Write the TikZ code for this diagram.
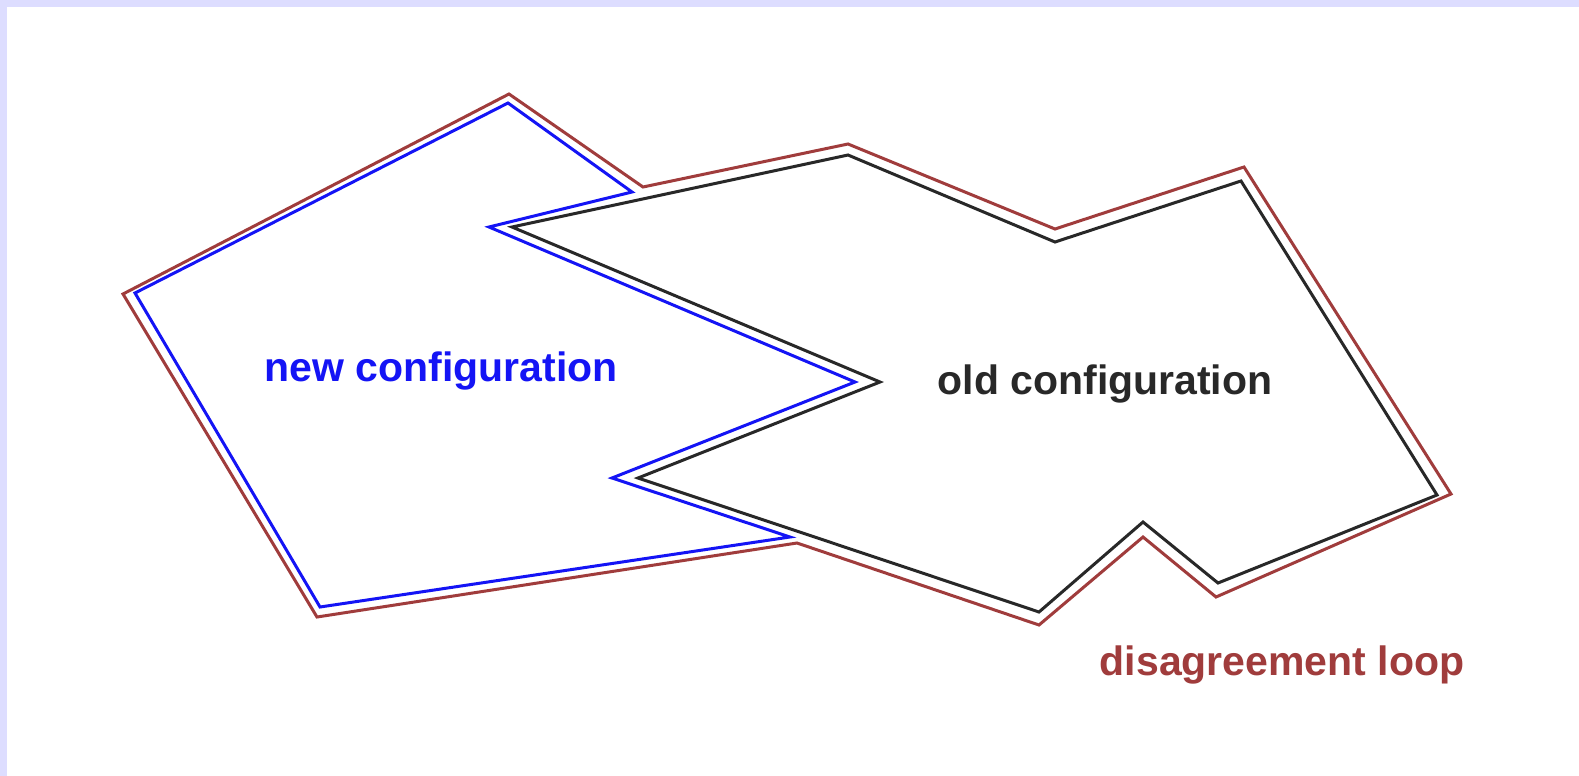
\documentclass[tikz,border=0pt]{standalone}
\usepackage{fontspec}
\setmainfont{Liberation Sans}
\definecolor{framelav}{RGB}{221,221,255}
\definecolor{newblue}{RGB}{20,20,245}
\definecolor{oldblack}{RGB}{40,40,40}
\definecolor{loopred}{RGB}{160,60,60}
\tikzset{
  outline/.style={line width=1.5pt, line join=miter},
  label/.style={font=\bfseries\fontsize{20.5}{24}\selectfont, inner sep=0pt, anchor=base}
}
\begin{document}
\begin{tikzpicture}[x=0.5pt,y=-0.5pt]
  % page and frame bands
  \useasboundingbox (0,0) rectangle (1579,776);
  \fill[white] (0,0) rectangle (1579,776);
  \fill[framelav] (0,0) rectangle (1579,7);
  \fill[framelav] (0,0) rectangle (7,776);

  % disagreement loop (outer boundary)
  \draw[outline, loopred] (123,294) -- (509,94) -- (643,187) -- (848,144)
    -- (1055,229) -- (1244,167) -- (1451,494) -- (1216,597) -- (1143,537)
    -- (1039,625) -- (797,543) -- (317,617) -- cycle;

  % new configuration
  \draw[outline, newblue] (135,293) -- (508,103) -- (632,192) -- (489,227)
    -- (855,382) -- (612,478) -- (790,537) -- (320,607) -- cycle;

  % old configuration
  \draw[outline, oldblack] (512,227) -- (848,155) -- (1055,242) -- (1241,181)
    -- (1437,495) -- (1218,583) -- (1143,522) -- (1039,612) -- (638,478)
    -- (880,382) -- cycle;

  \node[label, text=newblue] (newlbl) at (441,381) {new configuration};
  \node[label, text=oldblack] (oldlbl) at (1105,394) {old configuration};
  \node[label, text=loopred] (looplbl) at (1282,675) {disagreement loop};
\end{tikzpicture}
\end{document}
